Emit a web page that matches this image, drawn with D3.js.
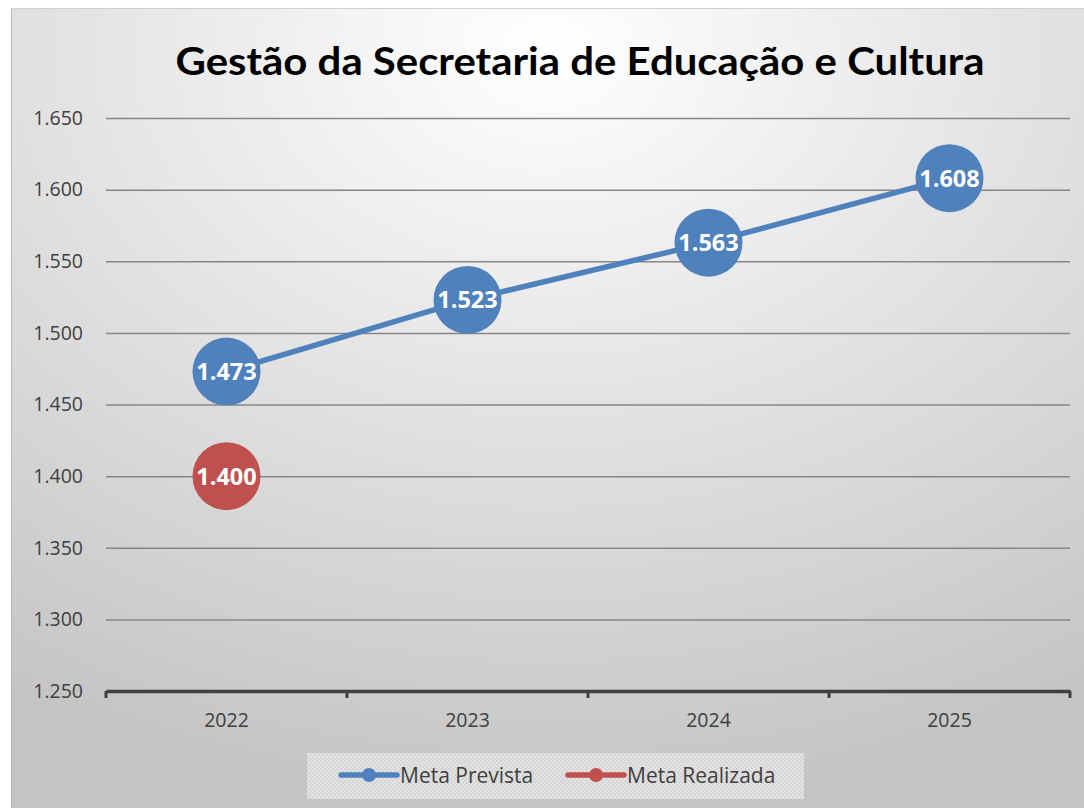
<!DOCTYPE html>
<html><head><meta charset="utf-8">
<script src="https://cdn.jsdelivr.net/npm/d3@7"></script>
<style>html,body{margin:0;padding:0;background:#fff;}svg{display:block;}</style>
</head><body>
<svg id="c" width="1084" height="808"></svg>
<script>
const title = "Gestão da Secretaria de Educação e Cultura";
const categories = ["2022","2023","2024","2025"];
const metaPrevista = [1473,1523,1563,1608];
const metaRealizada = [1400,null,null,null];
const yTicks = [1250,1300,1350,1400,1450,1500,1550,1600,1650];
const seriesNames = ["Meta Prevista","Meta Realizada"];
const seriesColors = ["#4f81bd","#c0504d"];

const svg = d3.select("#c");
const W = 1084, H = 808;
const defs = svg.append("defs");
const g1 = defs.append("radialGradient").attr("id","bg").attr("cx","0.5").attr("cy","0.05").attr("r","0.95").attr("fx","0.5").attr("fy","0.05");
g1.append("stop").attr("offset","0%").attr("stop-color","#ffffff");
g1.append("stop").attr("offset","100%").attr("stop-color","#c4c4c4");
const pat = defs.append("pattern").attr("id","pat").attr("width",4).attr("height",4).attr("patternUnits","userSpaceOnUse");
pat.append("rect").attr("width",4).attr("height",4).attr("fill","#e2e2e2");
pat.append("rect").attr("width",2).attr("height",2).attr("fill","#d6d6d6");
pat.append("rect").attr("x",2).attr("y",2).attr("width",2).attr("height",2).attr("fill","#d6d6d6");

svg.append("rect").attr("x",11).attr("y",8).attr("width",W-11).attr("height",H-8).attr("fill","url(#bg)");
svg.append("line").attr("x1",11.5).attr("x2",11.5).attr("y1",8).attr("y2",H).attr("stroke","#b8b8b8").attr("stroke-width",1);
svg.append("line").attr("x1",11).attr("x2",W).attr("y1",8.5).attr("y2",8.5).attr("stroke","#d0d0d0").attr("stroke-width",1);

const fmt = d3.formatLocale({decimal:",",thousands:".",grouping:[3],currency:["R$",""]}).format(",");

const x = d3.scaleBand().domain(categories).range([106,1070]);
const y = d3.scaleLinear().domain([1250,1650]).range([691,118]);

svg.append("text").attr("x",580).attr("y",75).attr("text-anchor","middle")
  .attr("font-family","Lato, 'Open Sans', sans-serif").attr("font-weight","bold").attr("font-size",39)
  .attr("fill","#000").attr("textLength",809).attr("lengthAdjust","spacingAndGlyphs").text(title);

// grid
const grid = svg.append("g").attr("transform","translate(106,0)")
  .call(d3.axisLeft(y).tickValues(yTicks.slice(1)).tickSize(-(1070-106)).tickFormat(""));
grid.select(".domain").remove();
grid.selectAll("line").attr("stroke","#868686").attr("stroke-width",1.5);

// y labels
const yl = svg.append("g").attr("transform","translate(106,0)")
  .call(d3.axisLeft(y).tickValues(yTicks).tickSize(0).tickPadding(23).tickFormat(fmt));
yl.select(".domain").remove();
yl.selectAll("text").attr("font-family","'Open Sans', sans-serif").attr("font-size",19.5).attr("fill","#404040");

// x axis
const xa = svg.append("g").attr("transform","translate(0,691)")
  .call(d3.axisBottom(x).tickSize(0).tickPadding(22));
xa.select(".domain").attr("stroke","#404040").attr("stroke-width",3.5);
xa.selectAll("text").attr("font-family","'Open Sans', sans-serif").attr("font-size",19.5).attr("fill","#404040");
const bounds = categories.map(c=>x(c)).concat([x.range()[1]]);
svg.append("g").selectAll("line").data(bounds).join("line")
  .attr("x1",d=>d).attr("x2",d=>d).attr("y1",691).attr("y2",698)
  .attr("stroke","#404040").attr("stroke-width",3);

const cx = c => x(c)+x.bandwidth()/2;
const series = [metaPrevista, metaRealizada];
series.forEach((vals,i)=>{
  const pts = categories.map((c,j)=>({c,v:vals[j]})).filter(d=>d.v!=null);
  svg.append("path").datum(pts).attr("fill","none").attr("stroke",seriesColors[i]).attr("stroke-width",5.5)
    .attr("stroke-linecap","round")
    .attr("d",d3.line().x(d=>cx(d.c)).y(d=>y(d.v)));
});
series.forEach((vals,i)=>{
  const pts = categories.map((c,j)=>({c,v:vals[j]})).filter(d=>d.v!=null);
  const gg = svg.append("g");
  gg.selectAll("circle").data(pts).join("circle").attr("cx",d=>cx(d.c)).attr("cy",d=>y(d.v)).attr("r",34)
    .attr("fill",seriesColors[i]);
  gg.selectAll("text").data(pts).join("text").attr("x",d=>cx(d.c)).attr("y",d=>y(d.v)+8.5).attr("text-anchor","middle")
    .attr("font-family","'Open Sans', sans-serif").attr("font-weight","bold").attr("font-size",23.5).attr("fill","#fff")
    .text(d=>fmt(d.v));
});

// legend
const lg = svg.append("g");
lg.append("rect").attr("x",307).attr("y",753).attr("width",497).attr("height",46).attr("fill","url(#pat)");
const lx = [341,568];
seriesNames.forEach((n,i)=>{
  const gg = lg.append("g").attr("transform",`translate(${lx[i]},775)`);
  gg.append("line").attr("x1",0).attr("x2",56).attr("stroke",seriesColors[i]).attr("stroke-width",5.5).attr("stroke-linecap","round");
  gg.append("circle").attr("cx",28).attr("r",7).attr("fill",seriesColors[i]);
  gg.append("text").attr("x",59).attr("y",7.5).attr("font-family","'Open Sans', sans-serif").attr("font-size",21).attr("fill","#404040").text(n);
});
</script>
</body></html>
